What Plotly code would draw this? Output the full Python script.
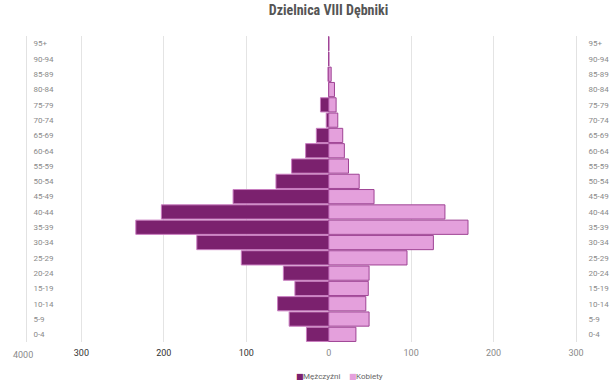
import plotly.graph_objects as go

age_groups = ["0-4", "5-9", "10-14", "15-19", "20-24", "25-29", "30-34", "35-39",
              "40-44", "45-49", "50-54", "55-59", "60-64", "65-69", "70-74", "75-79",
              "80-84", "85-89", "90-94", "95+"]
men = [27, 48, 62, 41, 55, 106, 160, 234, 203, 116, 64, 45, 28, 15, 3, 10, 0, 1, 0, 0]
women = [33, 49, 45, 48, 49, 95, 127, 169, 141, 55, 37, 24, 19, 17, 11, 9, 7, 3, 0, 0]

grid_vals = [-300, -200, -100, 0, 100, 200, 300]
left_tick_vals = [-300, -200, -100]
left_tick_text = ["300", "200", "100"]
right_tick_vals = [0, 100, 200, 300]
right_tick_text = ["0", "100", "200", "300"]
edge_label = "4000"

title = "Dzielnica VIII Dębniki"
men_name = "Mężczyźni"
women_name = "Kobiety"

men_color = "#7B216E"
men_line = "#C97DC0"
women_color = "#E4A0DC"
women_line = "#9E4394"

X_RANGE = [-366, 300]
W, H = 614, 387
ML, MR, MT, MB = 27, 38, 36, 45
PW = W - ML - MR
PH = H - MT - MB


def px_to_paper_x(px):
    return (px - ML) / PW


def px_to_paper_y(py):
    return (H - MB - py) / PH


fig = go.Figure()
fig.add_trace(go.Bar(
    y=age_groups, x=[-v for v in men], orientation="h", name=men_name,
    marker=dict(color=men_color, line=dict(color=men_line, width=1)),
    xaxis="x", yaxis="y", hoverinfo="skip", showlegend=False))
fig.add_trace(go.Bar(
    y=age_groups, x=women, orientation="h", name=women_name,
    marker=dict(color=women_color, line=dict(color=women_line, width=1)),
    xaxis="x2", yaxis="y2", hoverinfo="skip", showlegend=False))

cat_axis = dict(type="category", categoryorder="array", categoryarray=age_groups,
                range=[-0.5, len(age_groups) - 0.5], showgrid=False, zeroline=False,
                ticks="", tickfont=dict(size=8, color="#8a8a8a", family="Roboto"),
                showline=True, linecolor="#e2e2e2", linewidth=1, fixedrange=True,
                automargin=False)

fig.update_layout(
    width=W, height=H,
    margin=dict(l=ML, r=MR, t=MT, b=MB, autoexpand=False),
    paper_bgcolor="white", plot_bgcolor="white",
    barmode="relative", bargap=0.07,
    title=dict(text=f"<b>{title}</b>", x=0.535, xanchor="center",
               y=1 - 5 / H, yanchor="top",
               font=dict(size=14, color="#555555",
                         family="Liberation Sans Narrow, Roboto Condensed, Roboto")),
    xaxis=dict(range=X_RANGE, tickvals=grid_vals,
               ticktext=left_tick_text + [""] * (len(grid_vals) - len(left_tick_text)),
               showgrid=True, gridcolor="#e4e4e4", gridwidth=1, zeroline=False,
               ticks="", tickfont=dict(size=9, color="#333333", family="Roboto"),
               ticklabelstandoff=4,
               showline=False, automargin=False, anchor="y"),
    xaxis2=dict(range=X_RANGE, tickvals=right_tick_vals, ticktext=right_tick_text,
                overlaying="x", matches="x", side="bottom", anchor="y2",
                showgrid=False, zeroline=False, ticks="",
                tickfont=dict(size=9, color="#8a8a8a", family="Roboto"),
                ticklabelstandoff=4,
                showline=False, automargin=False),
    yaxis=dict(**cat_axis, side="left", ticklabelposition="inside",
               ticklabelstandoff=5, anchor="x"),
    yaxis2=dict(**cat_axis, side="right", overlaying="y", ticklabelstandoff=10,
                anchor="x2"),
    showlegend=False,
)

fig.add_annotation(x=px_to_paper_x(23), y=0, xref="paper", yref="paper", yshift=-6,
                   text=edge_label, showarrow=False, yanchor="top", xanchor="center",
                   font=dict(size=9, color="#8a8a8a", family="Roboto"))

legend_items = [(men_name, men_color, 294), (women_name, women_color, 347)]
for name, color, px in legend_items:
    fig.add_annotation(x=px_to_paper_x(px), y=px_to_paper_y(376), xref="paper", yref="paper",
                       text="■", showarrow=False, xanchor="left", yanchor="middle",
                       font=dict(size=8, color=color, family="DejaVu Sans"))
    fig.add_annotation(x=px_to_paper_x(px + 7), y=px_to_paper_y(376), xref="paper",
                       yref="paper", text=name, showarrow=False, xanchor="left",
                       yanchor="middle", font=dict(size=8, color="#666666", family="Roboto"))

fig.write_html("out.html", config={"displayModeBar": False, "staticPlot": True},
               post_script="document.body.style.margin='0';")
